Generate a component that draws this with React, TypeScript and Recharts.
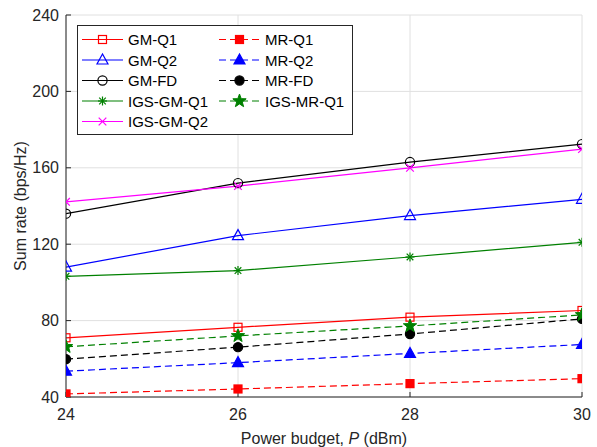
import React from "react";
import { CartesianGrid, Label, Legend, Line, LineChart, XAxis, YAxis } from "recharts";

// Power budget (dBm) on the x axis
const powerBudget = [24, 26, 28, 30];
const xTicks = [24, 26, 28, 30];
const yTicks = [40, 80, 120, 160, 200, 240];

// Sum rate (bps/Hz)
const gmQ1 = [71, 76.5, 81.8, 85.3];
const mrQ1 = [41.6, 44.2, 47, 49.6];
const gmQ2 = [108, 124.5, 135, 143.5];
const mrQ2 = [53.5, 58, 62.8, 67.5];
const gmFD = [136, 152, 163, 172.4];
const mrFD = [59.8, 66.1, 73, 80.9];
const igsGmQ1 = [103.2, 106.2, 113.3, 121];
const igsMrQ1 = [66.3, 72, 77.2, 83];
const igsGmQ2 = [142.2, 150.4, 160, 169.8];

type Shape = "square" | "triangle" | "circle" | "asterisk" | "cross" | "star";

interface Series {
  key: string;
  name: string;
  values: number[];
  color: string;
  dashed: boolean;
  shape: Shape;
  filled: boolean;
}

const RED = "#ff0000";
const BLUE = "#0000ff";
const BLACK = "#000000";
const GREEN = "#008000";
const MAGENTA = "#ff00ff";

// legend order: row by row, two columns
const series: Series[] = [
  { key: "gmQ1", name: "GM-Q1", values: gmQ1, color: RED, dashed: false, shape: "square", filled: false },
  { key: "mrQ1", name: "MR-Q1", values: mrQ1, color: RED, dashed: true, shape: "square", filled: true },
  { key: "gmQ2", name: "GM-Q2", values: gmQ2, color: BLUE, dashed: false, shape: "triangle", filled: false },
  { key: "mrQ2", name: "MR-Q2", values: mrQ2, color: BLUE, dashed: true, shape: "triangle", filled: true },
  { key: "gmFD", name: "GM-FD", values: gmFD, color: BLACK, dashed: false, shape: "circle", filled: false },
  { key: "mrFD", name: "MR-FD", values: mrFD, color: BLACK, dashed: true, shape: "circle", filled: true },
  { key: "igsGmQ1", name: "IGS-GM-Q1", values: igsGmQ1, color: GREEN, dashed: false, shape: "asterisk", filled: false },
  { key: "igsMrQ1", name: "IGS-MR-Q1", values: igsMrQ1, color: GREEN, dashed: true, shape: "star", filled: true },
  { key: "igsGmQ2", name: "IGS-GM-Q2", values: igsGmQ2, color: MAGENTA, dashed: false, shape: "cross", filled: false },
];

const data = powerBudget.map((p, i) => {
  const row: Record<string, number> = { p };
  series.forEach((s) => {
    row[s.key] = s.values[i];
  });
  return row;
});

const FONT = "'Liberation Sans', Arial, Helvetica, sans-serif";
const DASH = "7 4";
const AXIS_COLOR = "#262626";
const FS = 16;
const LEGEND_FS = 15;

function starPoints(cx: number, cy: number, outer: number, inner: number) {
  const pts: string[] = [];
  for (let i = 0; i < 10; i++) {
    const r = i % 2 === 0 ? outer : inner;
    const a = -Math.PI / 2 + (i * Math.PI) / 5;
    pts.push(`${cx + r * Math.cos(a)},${cy + r * Math.sin(a)}`);
  }
  return pts.join(" ");
}

function Marker({ shape, x, y, color, filled }: { shape: Shape; x: number; y: number; color: string; filled: boolean }) {
  const fill = filled ? color : "none";
  const sw = 1.2;
  switch (shape) {
    case "square":
      return <rect x={x - 4} y={y - 4} width={8} height={8} fill={fill} stroke={color} strokeWidth={sw} />;
    case "triangle":
      return (
        <polygon
          points={`${x},${y - 6} ${x - 5.5},${y + 4} ${x + 5.5},${y + 4}`}
          fill={fill}
          stroke={color}
          strokeWidth={sw}
        />
      );
    case "circle":
      return <circle cx={x} cy={y} r={4.6} fill={fill} stroke={color} strokeWidth={sw} />;
    case "asterisk":
      return (
        <g stroke={color} strokeWidth={sw}>
          <line x1={x - 4.5} y1={y} x2={x + 4.5} y2={y} />
          <line x1={x} y1={y - 4.5} x2={x} y2={y + 4.5} />
          <line x1={x - 3.3} y1={y - 3.3} x2={x + 3.3} y2={y + 3.3} />
          <line x1={x - 3.3} y1={y + 3.3} x2={x + 3.3} y2={y - 3.3} />
        </g>
      );
    case "cross":
      return (
        <g stroke={color} strokeWidth={sw}>
          <line x1={x - 3.8} y1={y - 3.8} x2={x + 3.8} y2={y + 3.8} />
          <line x1={x - 3.8} y1={y + 3.8} x2={x + 3.8} y2={y - 3.8} />
        </g>
      );
    case "star":
      return <polygon points={starPoints(x, y, 7, 2.9)} fill={fill} stroke={color} strokeWidth={1} />;
  }
  return null;
}

function ChartLegend() {
  const rowH = 20.5;
  return (
    <svg width={276} height={110} style={{ display: "block" }}>
      <rect x={0.5} y={0.5} width={275} height={109} fill="#ffffff" stroke={AXIS_COLOR} strokeWidth={1} />
      {series.map((s, i) => {
        const col = i % 2;
        const row = Math.floor(i / 2);
        const x0 = col === 0 ? 5 : 142;
        const y = 14.5 + row * rowH;
        return (
          <g key={s.key}>
            <line
              x1={x0}
              y1={y}
              x2={x0 + 41}
              y2={y}
              stroke={s.color}
              strokeWidth={1.2}
              strokeDasharray={s.dashed ? DASH : undefined}
            />
            <Marker shape={s.shape} x={x0 + 20.5} y={y} color={s.color} filled={s.filled} />
            <text x={x0 + 46} y={y} dominantBaseline="central" fontFamily={FONT} fontSize={LEGEND_FS} fill="#000">
              {s.name}
            </text>
          </g>
        );
      })}
    </svg>
  );
}

const renderXLabel = (props: any) => {
  const { x, y, width } = props.viewBox;
  return (
    <text x={x + width / 2} y={y + 47} textAnchor="middle" fontFamily={FONT} fontSize={FS} fill={AXIS_COLOR}>
      Power budget, <tspan fontStyle="italic">P</tspan> (dBm)
    </text>
  );
};

const renderYLabel = () => (
  <text
    x={20}
    y={206}
    transform="rotate(-90 20 206)"
    textAnchor="middle"
    dominantBaseline="central"
    fontFamily={FONT}
    fontSize={FS}
    fill={AXIS_COLOR}
  >
    Sum rate (bps/Hz)
  </text>
);

export default function App() {
  const tickStyle = { fontFamily: FONT, fontSize: FS, fill: AXIS_COLOR };
  return (
    <div style={{ position: "absolute", left: 0, top: 0, background: "#fff" }}>
      <LineChart width={597} height={447} data={data} margin={{ top: 15, right: 15, bottom: 0, left: 0 }}>
        <CartesianGrid stroke="#e0e0e0" strokeWidth={1} />
        <XAxis
          dataKey="p"
          type="number"
          domain={[24, 30]}
          ticks={xTicks}
          height={50}
          tick={tickStyle}
          tickSize={-5}
          tickMargin={17}
          stroke={AXIS_COLOR}
          allowDataOverflow
        >
          <Label content={renderXLabel} />
        </XAxis>
        <XAxis
          xAxisId="top"
          dataKey="p"
          type="number"
          orientation="top"
          domain={[24, 30]}
          ticks={xTicks}
          height={0}
          tick={false}
          tickSize={-5}
          stroke={AXIS_COLOR}
        />
        <YAxis
          type="number"
          domain={[40, 240]}
          ticks={yTicks}
          width={66}
          tick={tickStyle}
          tickSize={-5}
          tickMargin={12}
          stroke={AXIS_COLOR}
          allowDataOverflow
        >
          <Label content={renderYLabel} />
        </YAxis>
        <YAxis
          yAxisId="right"
          type="number"
          orientation="right"
          domain={[40, 240]}
          ticks={yTicks}
          width={0}
          tick={false}
          tickSize={-5}
          stroke={AXIS_COLOR}
        />
        {series.map((s) => (
          <Line
            key={s.key}
            dataKey={s.key}
            name={s.name}
            type="linear"
            stroke={s.color}
            strokeWidth={1.2}
            strokeDasharray={s.dashed ? DASH : undefined}
            isAnimationActive={false}
            activeDot={false}
            dot={(props: any) => (
              <Marker
                key={`${s.key}-${props.index}`}
                shape={s.shape}
                x={props.cx}
                y={props.cy}
                color={s.color}
                filled={s.filled}
              />
            )}
          />
        ))}
        <Legend
          layout="horizontal"
          verticalAlign="middle"
          align="center"
          content={() => <ChartLegend />}
          wrapperStyle={{ left: 77, top: 25, width: 276, height: 110 }}
        />
      </LineChart>
    </div>
  );
}
